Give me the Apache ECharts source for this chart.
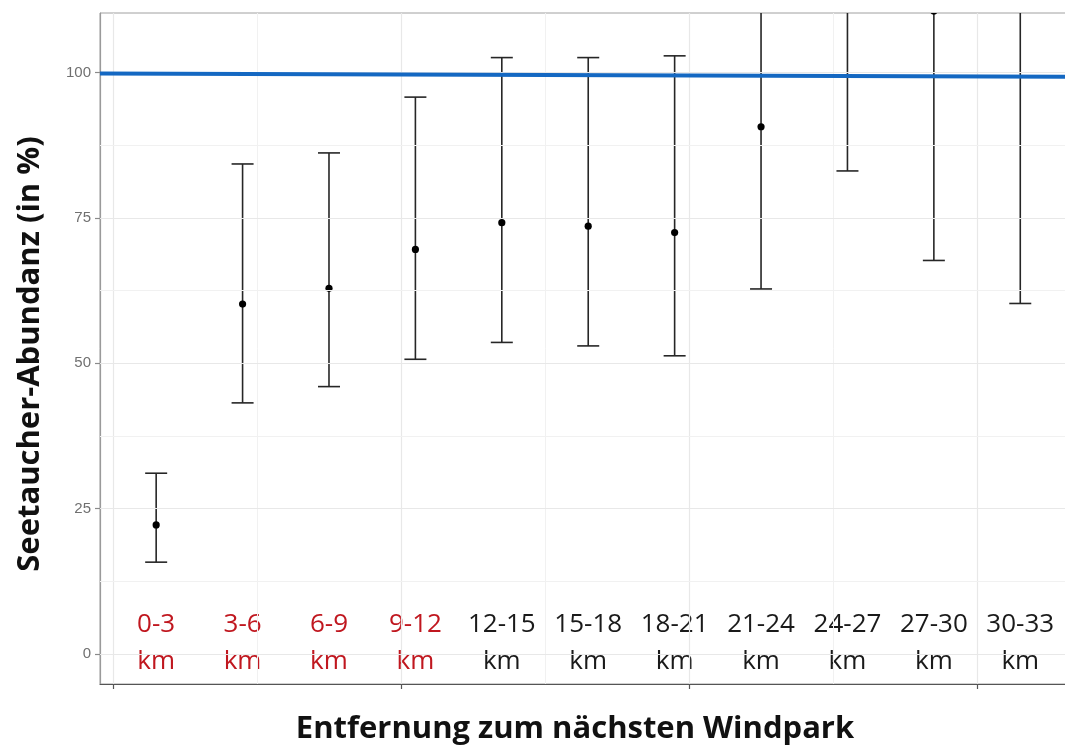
<!DOCTYPE html>
<html>
<head>
<meta charset="utf-8">
<script src="https://cdn.jsdelivr.net/npm/echarts@6/dist/echarts.min.js"></script>
<style>
  html, body { margin: 0; padding: 0; background: #ffffff; }
  #chart { width: 1065px; height: 749px; }
</style>
</head>
<body>
<div id="chart"></div>
<script>
// Distance bins to the nearest wind farm (km)
const categories = ['0-3', '3-6', '6-9', '9-12', '12-15', '15-18', '18-21', '21-24', '24-27', '27-30', '30-33'];
// Bins flagged as significantly reduced (drawn in red)
const reducedBins = ['0-3', '3-6', '6-9', '9-12'];
// Estimated abundance (%) with confidence interval bounds
const means  = [22.2, 60.2, 62.9, 69.6, 74.2, 73.6, 72.5, 90.7, 113.0, 110.6, 116.0];
const lowers = [15.8, 43.2, 46.0, 50.7, 53.6, 53.0, 51.3, 62.8, 83.1, 67.7, 60.3];
const uppers = [31.1, 84.3, 86.2, 95.8, 102.6, 102.6, 102.9, 118.6, 143.0, 153.5, 171.7];
// Reference level (100 % = undisturbed abundance)
const referenceLine = [[-0.45, 99.87], [33.4, 99.29]];
// Axis ticks and grid lines
const yTicks = [0, 25, 50, 75, 100];
const yMinorGrid = [12.5, 37.5, 62.5, 87.5];
const xTicks = [0, 10, 20, 30];
const xMinorGrid = [5, 15, 25];
const xRange = [-0.45, 33.4];
const yRange = [-5.16, 110.27];

// Midpoint of each distance bin, e.g. '3-6' -> 4.5
const mids = categories.map(c => {
  const [a, b] = c.split('-').map(Number);
  return (a + b) / 2;
});

const chart = echarts.init(document.getElementById('chart'), null, { renderer: 'canvas' });

const majorGrid = { color: '#e8e8e8', width: 1.2, type: 'solid' };
const minorGrid = { color: '#f1f1f1', width: 1, type: 'solid' };
const gridMarks = [
  ...xTicks.map(v => ({ xAxis: v, lineStyle: majorGrid })),
  ...xMinorGrid.map(v => ({ xAxis: v, lineStyle: minorGrid })),
  ...yTicks.map(v => ({ yAxis: v, lineStyle: majorGrid })),
  ...yMinorGrid.map(v => ({ yAxis: v, lineStyle: minorGrid }))
];

const titleFont = '"Open Sans", "DejaVu Sans", sans-serif';

chart.setOption({
  animation: false,
  backgroundColor: '#ffffff',
  grid: {
    left: 100, top: 13, right: -10, bottom: 65,
    show: true, borderColor: '#a0a0a0', borderWidth: 1,
    outerBoundsMode: 'none'
  },
  xAxis: {
    type: 'value',
    min: xRange[0], max: xRange[1],
    axisLine: { show: true, onZero: false, lineStyle: { color: '#555555', width: 1.2 } },
    axisTick: { show: true, customValues: xTicks, length: 5, lineStyle: { color: '#555555', width: 1.2 } },
    axisLabel: { show: false },
    splitLine: { show: false }
  },
  yAxis: {
    type: 'value',
    min: yRange[0], max: yRange[1],
    axisLine: { show: true, onZero: false, lineStyle: { color: '#9a9a9a', width: 1.2 } },
    axisTick: { show: true, customValues: yTicks, length: 5, lineStyle: { color: '#8a8a8a', width: 1.2 } },
    axisLabel: {
      customValues: yTicks, margin: 9,
      color: '#707070', fontSize: 15, fontFamily: '"Liberation Sans", Arial, sans-serif'
    },
    splitLine: { show: false }
  },
  graphic: [
    {
      type: 'text', x: 30, y: 354, rotation: Math.PI / 2,
      style: {
        text: 'Seetaucher-Abundanz (in %)', fill: '#111111',
        font: 'bold 31px ' + titleFont, textAlign: 'center', textVerticalAlign: 'middle'
      }
    },
    {
      type: 'text', x: 575, y: 729,
      style: {
        text: 'Entfernung zum nächsten Windpark', fill: '#111111',
        font: 'bold 31px ' + titleFont, textAlign: 'center', textVerticalAlign: 'middle'
      }
    }
  ],
  series: [
    {
      // panel grid lines
      type: 'line', data: [], z: 1, silent: true,
      markLine: { silent: true, symbol: 'none', label: { show: false }, animation: false, data: gridMarks }
    },
    {
      // bin labels along the bottom of the panel
      type: 'custom', z: 2, silent: true,
      data: categories.map((c, i) => [mids[i], 0, i]),
      renderItem(params, api) {
        const i = api.value(2);
        const p = api.coord([api.value(0), api.value(1)]);
        const name = categories[i];
        return {
          type: 'text',
          style: {
            text: name + '\nkm', x: p[0], y: p[1] - 10.5,
            textAlign: 'center', textVerticalAlign: 'middle',
            fontSize: 26, lineHeight: 37, fontFamily: '"Open Sans", sans-serif',
            fill: reducedBins.includes(name) ? '#c0171f' : '#1a1a1a'
          }
        };
      }
    },
    {
      // confidence intervals
      type: 'custom', z: 3, clip: true, silent: true,
      data: categories.map((c, i) => [mids[i], lowers[i], uppers[i]]),
      encode: { x: 0, y: [1, 2] },
      renderItem(params, api) {
        const x = api.value(0);
        const lo = api.coord([x, api.value(1)]);
        const hi = api.coord([x, api.value(2)]);
        const half = 11;
        const style = { stroke: '#262626', lineWidth: 1.6 };
        return {
          type: 'group',
          children: [
            { type: 'line', shape: { x1: lo[0], y1: lo[1], x2: hi[0], y2: hi[1] }, style },
            { type: 'line', shape: { x1: lo[0] - half, y1: lo[1], x2: lo[0] + half, y2: lo[1] }, style },
            { type: 'line', shape: { x1: hi[0] - half, y1: hi[1], x2: hi[0] + half, y2: hi[1] }, style }
          ]
        };
      }
    },
    {
      // point estimates
      type: 'custom', z: 4, clip: true, silent: true,
      data: categories.map((c, i) => [mids[i], means[i]]),
      encode: { x: 0, y: 1 },
      renderItem(params, api) {
        const p = api.coord([api.value(0), api.value(1)]);
        return { type: 'circle', shape: { cx: p[0], cy: p[1], r: 3.6 }, style: { fill: '#000000' } };
      }
    },
    {
      // 100 % reference line
      type: 'line', z: 5, silent: true, symbol: 'none',
      data: referenceLine,
      lineStyle: { color: '#1468c2', width: 4 }
    }
  ]
});
</script>
</body>
</html>
